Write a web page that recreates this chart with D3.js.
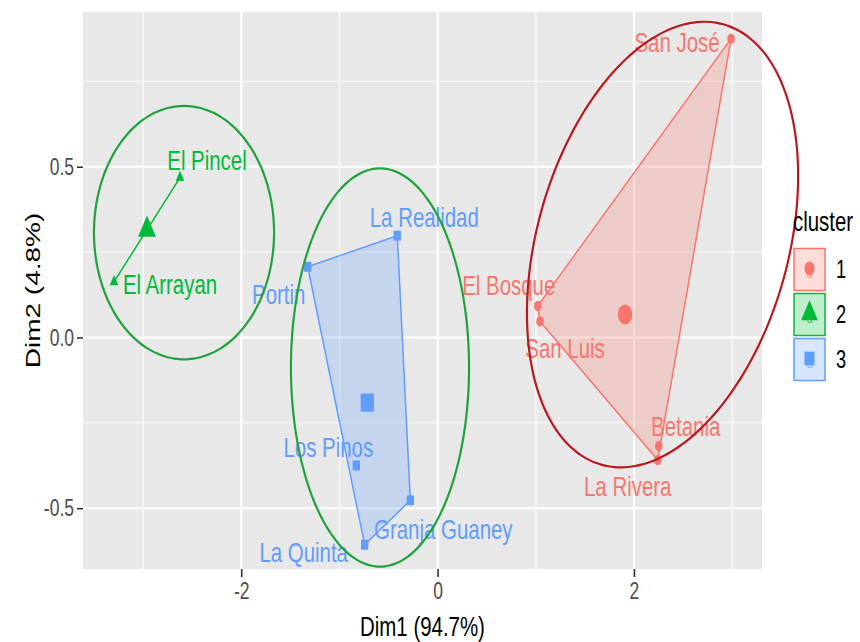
<!DOCTYPE html>
<html>
<head>
<meta charset="utf-8">
<script src="https://cdn.jsdelivr.net/npm/d3@7"></script>
<style>
  html, body { margin: 0; padding: 0; background: #fff; }
  svg { display: block; }
  text { font-family: "Liberation Sans", Arial, sans-serif; }
</style>
</head>
<body>
<svg id="chart" width="860" height="642"></svg>
<script>
// ---- data ----
const names    = ["San José", "El Bosque", "San Luis", "Betania", "La Rivera",
                  "El Pincel", "El Arrayan",
                  "La Realidad", "Portin", "Los Pinos", "Granja Guaney", "La Quinta"];
const dim1     = [2.988, 1.019, 1.042, 2.251, 2.241,
                  -2.625, -3.297,
                  -0.412, -1.324, -0.829, -0.279, -0.744];
const dim2     = [0.875, 0.092, 0.047, -0.318, -0.359,
                  0.468, 0.163,
                  0.298, 0.207, -0.375, -0.477, -0.607];
const cluster  = [1, 1, 1, 1, 1, 2, 2, 3, 3, 3, 3, 3];
const clusters = [1, 2, 3];
const clusterColors = ["#F8766D", "#00BA38", "#619CFF"];
const xTicks = [-2, 0, 2];
const xMinor = [-3, -1, 1, 3];
const yTicks = [-0.5, 0, 0.5];
const yMinor = [-0.25, 0.25, 0.75];
const xTitle = "Dim1 (94.7%)";
const yTitle = "Dim2 (4.8%)";
const legendTitle = "cluster";
// annotation ellipses (centre + two half-axis vectors, data units)
const ellipseCx = [2.290, -2.584, -0.588];
const ellipseCy = [0.272, 0.307, -0.088];
const ellipseU  = [[0.618, 0.645], [0.917, 0], [0.907, 0]];
const ellipseV  = [[1.235, -0.098], [0, 0.371], [0, 0.583]];
const ellipseColors = ["#B81A20", "#1FA23E", "#1FA23E"];
// repelled label offsets (screen px)
const labelDx = [-54, -29, 25, 27, -30, 27, 56, 27, -29, -28, 33, -61];
const labelDy = [3, -21, 27, -20, 26, -18, 2, -19, 27, -19, 29, 7];

// ---- layout ----
const sx = 0.73;               // horizontal squeeze of the original picture
const S = px => px / sx;       // screen px -> internal x
const svg = d3.select("#chart");
const root = svg.append("g").attr("transform", `scale(${sx},1)`);

const x = d3.scaleLinear().domain([-3.613, 3.303]).range([S(83), S(762)]);
const y = d3.scaleLinear().domain([-0.678, 0.953]).range([569, 12]);

// panel
root.append("rect")
  .attr("x", x.range()[0]).attr("y", y.range()[1])
  .attr("width", x.range()[1] - x.range()[0])
  .attr("height", y.range()[0] - y.range()[1])
  .attr("fill", "#E8E8E8");

const grid = root.append("g");
grid.selectAll(".xm").data(xMinor).join("line")
  .attr("x1", d => x(d)).attr("x2", d => x(d))
  .attr("y1", y.range()[1]).attr("y2", y.range()[0])
  .attr("stroke", "#fff").attr("stroke-width", 1).attr("vector-effect", "non-scaling-stroke");
grid.selectAll(".ym").data(yMinor).join("line")
  .attr("x1", x.range()[0]).attr("x2", x.range()[1])
  .attr("y1", d => y(d)).attr("y2", d => y(d))
  .attr("stroke", "#fff").attr("stroke-width", 1);
grid.selectAll(".xM").data(xTicks).join("line")
  .attr("x1", d => x(d)).attr("x2", d => x(d))
  .attr("y1", y.range()[1]).attr("y2", y.range()[0])
  .attr("stroke", "#fff").attr("stroke-width", 2).attr("vector-effect", "non-scaling-stroke");
grid.selectAll(".yM").data(yTicks).join("line")
  .attr("x1", x.range()[0]).attr("x2", x.range()[1])
  .attr("y1", d => y(d)).attr("y2", d => y(d))
  .attr("stroke", "#fff").attr("stroke-width", 2);

// axes
const xAxis = root.append("g").attr("transform", `translate(0,${y.range()[0]})`)
  .call(d3.axisBottom(x).tickValues(xTicks).tickSize(8).tickPadding(5));
const yAxis = root.append("g").attr("transform", `translate(${x.range()[0]},0)`)
  .call(d3.axisLeft(y).tickValues(yTicks).tickSize(S(6)).tickPadding(S(3)));
[xAxis, yAxis].forEach(a => {
  a.select(".domain").remove();
  a.selectAll(".tick line").attr("stroke", "#333").attr("stroke-width", 1.6).attr("vector-effect", "non-scaling-stroke");
  a.selectAll(".tick text").attr("fill", "#4D4D4D").attr("font-size", 24)
    .style("font-family", '"Liberation Sans", Arial, sans-serif');
});
xAxis.selectAll(".tick text").text(d => d3.format("d")(d).replace("−", "-"));
yAxis.selectAll(".tick text").text(d => d3.format(".1f")(d).replace("−", "-"));

// axis titles
root.append("text").attr("x", (x.range()[0] + x.range()[1]) / 2).attr("y", 636)
  .attr("text-anchor", "middle").attr("font-size", 28).attr("fill", "#000").text(xTitle);
root.append("text")
  .attr("transform", `translate(${S(40)},${(y.range()[0] + y.range()[1]) / 2}) rotate(-90)`)
  .attr("text-anchor", "middle").attr("font-size", 28).attr("fill", "#000").text(yTitle);

// points
const pts = names.map((n, i) => ({ name: n, x: dim1[i], y: dim2[i], c: cluster[i], i }));
const col = c => clusterColors[clusters.indexOf(c)];
const symType = c => c === 1 ? d3.symbolCircle : c === 2 ? d3.symbolTriangle : d3.symbolSquare;

// hulls
clusters.forEach(c => {
  const p = pts.filter(d => d.c === c).map(d => [x(d.x), y(d.y)]);
  const hull = p.length > 2 ? d3.polygonHull(p) : p;
  root.append("path")
    .attr("d", "M" + hull.map(q => q.join(",")).join("L") + "Z")
    .attr("fill", col(c)).attr("fill-opacity", 0.25)
    .attr("stroke", col(c)).attr("stroke-width", 1.5).attr("vector-effect", "non-scaling-stroke")
    .attr("stroke-linejoin", "round");
});

// small markers
const smallArea = { 1: Math.PI * 5.2 * 5.2, 2: 60, 3: 100 };
root.selectAll(".pt").data(pts).join("path")
  .attr("transform", d => `translate(${x(d.x)},${y(d.y)})`)
  .attr("d", d => d3.symbol().type(symType(d.c)).size(smallArea[d.c])())
  .attr("fill", d => col(d.c));

// centres
const bigArea = { 1: Math.PI * 10 * 10, 2: 260, 3: 330 };
clusters.forEach(c => {
  const m = pts.filter(d => d.c === c);
  const cx = d3.mean(m, d => d.x), cy = d3.mean(m, d => d.y);
  root.append("path")
    .attr("transform", `translate(${x(cx)},${y(cy)})`)
    .attr("d", d3.symbol().type(symType(c)).size(bigArea[c])())
    .attr("fill", col(c));
});

// labels
root.selectAll(".lbl").data(pts).join("text")
  .attr("x", d => x(d.x) + S(labelDx[d.i]))
  .attr("y", d => y(d.y) + labelDy[d.i])
  .attr("dy", "0.36em")
  .attr("text-anchor", "middle")
  .attr("font-size", 28)
  .attr("fill", d => col(d.c))
  .text(d => d.name);

// annotation ellipses
ellipseCx.forEach((cx, k) => {
  const pathPts = d3.range(0, 360, 3).map(a => {
    const t = a * Math.PI / 180;
    const dx = ellipseU[k][0] * Math.cos(t) + ellipseV[k][0] * Math.sin(t);
    const dy = ellipseU[k][1] * Math.cos(t) + ellipseV[k][1] * Math.sin(t);
    return [x(cx + dx), y(ellipseCy[k] + dy)];
  });
  root.append("path")
    .attr("d", d3.line().curve(d3.curveCardinalClosed)(pathPts))
    .attr("fill", "none").attr("stroke", ellipseColors[k])
    .attr("stroke-width", 2.2).attr("vector-effect", "non-scaling-stroke");
});

// legend
const lg = root.append("g");
lg.append("text").attr("x", S(793)).attr("y", 231).attr("font-size", 28).attr("fill", "#000").text(legendTitle);
const keyH = 45, keyTop = 247;
clusters.forEach((c, k) => {
  const ky = keyTop + k * keyH;
  lg.append("rect")
    .attr("x", S(794)).attr("y", ky + 1.5)
    .attr("width", S(825) - S(794)).attr("height", keyH - 3)
    .attr("fill", col(c)).attr("fill-opacity", 0.25)
    .attr("stroke", col(c)).attr("stroke-width", 1.5).attr("vector-effect", "non-scaling-stroke");
  const kx = (S(794) + S(825)) / 2, kyc = ky + keyH / 2;
  lg.append("text").attr("x", kx).attr("y", kyc + 9).attr("text-anchor", "middle")
    .attr("font-size", 14).attr("fill", col(c)).attr("fill-opacity", 0.8).text("a");
  lg.append("path")
    .attr("transform", `translate(${kx},${kyc - 1})`)
    .attr("d", d3.symbol().type(symType(c)).size(c === 1 ? 150 : c === 2 ? 230 : 190)())
    .attr("fill", col(c));
  lg.append("text").attr("x", S(836)).attr("y", kyc).attr("dy", "0.36em")
    .attr("font-size", 25).attr("fill", "#000").text(String(c));
});
</script>
</body>
</html>
